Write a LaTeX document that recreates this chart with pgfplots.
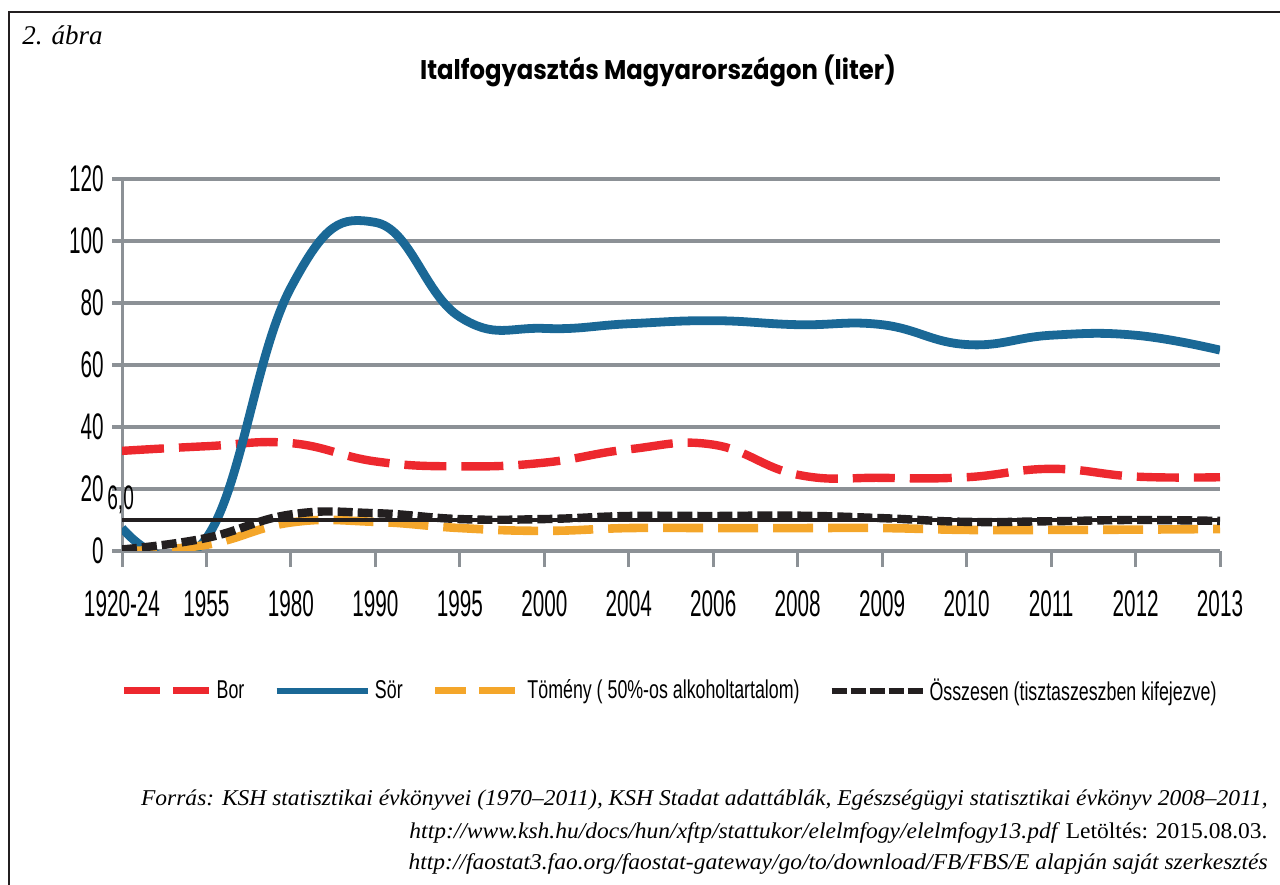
\documentclass[border=0pt]{standalone}
\usepackage{fontspec}
\usepackage{pgfplots}
\pgfplotsset{compat=1.18}
\setmainfont{Liberation Serif}
\newfontfamily\tickfont[FakeStretch=0.56]{Liberation Sans}
\newfontfamily\legfont[FakeStretch=0.69]{Liberation Sans}
\newfontfamily\titlefont[FakeStretch=0.9]{Poppins}
\newfontfamily\srcfont[FakeStretch=1.04]{Liberation Serif}
\definecolor{gridgray}{RGB}{140,145,150}
\definecolor{borred}{RGB}{237,40,46}
\definecolor{sorblue}{RGB}{26,104,150}
\definecolor{tomorange}{RGB}{244,166,42}
\definecolor{ossblack}{RGB}{35,31,32}
\begin{document}
\begin{tikzpicture}
\useasboundingbox (0,0) rectangle (640pt,442pt);
\draw[ossblack, line width=1.35pt] (4.5pt,-20pt) -- (4.5pt,436pt) -- (700pt,436pt);
\node[anchor=base west, font=\fontsize{13.5}{16}\selectfont\itshape, inner sep=0pt] at (11pt,419.5pt) {2. ábra};
\node[anchor=base, font=\titlefont\bfseries\fontsize{13.5}{16}\selectfont, inner sep=0pt] at (329pt,402pt) {Italfogyasztás Magyarországon (liter)};
\begin{axis}[
  at={(61pt,166.5pt)}, anchor=south west,
  scale only axis, width=549pt, height=186pt,
  xmin=0, xmax=13, ymin=0, ymax=120,
  xtick={0,...,13},
  xticklabels={1920-24,1955,1980,1990,1995,2000,2004,2006,2008,2009,2010,2011,2012,2013},
  ytick={0,20,...,120},
  axis x line*=bottom, axis y line*=left,
  ymajorgrids,
  grid style={gridgray, line width=2pt},
  axis line style={gridgray, line width=1.5pt},
  tick style={gridgray, line width=1.5pt},
  xtick align=outside, ytick align=outside,
  major tick length=8pt,
  ytick style={/pgfplots/major tick length=5pt, line width=2pt},
  /pgf/number format/assume math mode=true,
  xticklabel style={font=\tickfont\fontsize{18.5}{20}\selectfont, inner sep=0pt, anchor=north, yshift=-11.5pt},
  yticklabel style={font=\tickfont\fontsize{18.5}{20}\selectfont, inner sep=0pt, anchor=east, xshift=-1pt},
  legend style={draw=none, fill=none, inner sep=0pt, outer sep=0pt,
    font=\legfont\fontsize{12.9}{15}\selectfont,
    at={(-0.001,-0.376)}, anchor=west, legend columns=4,
    /tikz/every even column/.append style={column sep=12.5pt},
    /tikz/column 6/.append style={column sep=15.5pt}},
  legend cell align=left,
  smooth, tension=0.75,
]
\addplot[borred, line width=4.2pt, dash pattern=on 21pt off 7.5pt, smooth, tension=0.75,
  legend image code/.code={\draw[borred, line width=3.4pt, dash pattern=on 18pt off 6.5pt] (0pt,0pt) -- (42.5pt,0pt);}]
  coordinates {(0,32.3) (1,33.8) (2,34.8) (3,28.9) (4,27.3) (5,28.5) (6,32.8) (7,34.3) (8,24.6) (9,23.6) (10,23.8) (11,26.5) (12,24.0) (13,23.8)};
\addlegendentry{Bor}
\addplot[sorblue, line width=4.4pt, smooth, tension=0.75,
  legend image code/.code={\draw[sorblue, line width=3.3pt] (0pt,0pt) -- (45.5pt,0pt);}]
  coordinates {(0,7.4) (1,4.2) (2,85) (3,106) (4,75.5) (5,71.8) (6,73.3) (7,74.3) (8,73.0) (9,73.0) (10,66.6) (11,69.6) (12,69.6) (13,64.8)};
\addlegendentry{Sör}
\addplot[tomorange, line width=4.3pt, dash pattern=on 20pt off 7.5pt, dash phase=2.5pt, smooth, tension=0.75,
  legend image code/.code={\draw[tomorange, line width=3.4pt, dash pattern=on 18pt off 6.5pt] (0pt,0pt) -- (42.5pt,0pt);}]
  coordinates {(0,0) (1,2) (2,9.2) (3,9.4) (4,7.4) (5,6.5) (6,7.4) (7,7.4) (8,7.4) (9,7.4) (10,6.8) (11,6.8) (12,6.9) (13,7.1)};
\addlegendentry{Tömény ( 50\%-os alkoholtartalom)}
\addplot[ossblack, line width=1.6pt, forget plot, sharp plot] coordinates {(0,10) (13,10)};
\addplot[ossblack, line width=4.2pt, dash pattern=on 7.5pt off 2.5pt, smooth, tension=0.75,
  legend image code/.code={\draw[ossblack, line width=3pt, dash pattern=on 7.5pt off 2pt] (0pt,0pt) -- (45.5pt,0pt);}]
  coordinates {(0,0.5) (1,4.2) (2,11.8) (3,12.2) (4,10.3) (5,10.3) (6,11.3) (7,11.3) (8,11.4) (9,10.6) (10,9.4) (11,9.6) (12,10.0) (13,9.7)};
\addlegendentry{Összesen (tisztaszeszben kifejezve)}
\end{axis}
\node[anchor=base west, font=\tickfont\fontsize{17}{19}\selectfont, inner sep=0pt] at (53.5pt,187pt) {6,0};
\begin{scope}[every node/.style={anchor=base east, inner sep=0pt, font=\srcfont\fontsize{11.3}{13}\selectfont}]
\node at (634pt,39pt) {\itshape Forrás: KSH statisztikai évkönyvei (1970–2011), KSH Stadat adattáblák, Egészségügyi statisztikai évkönyv 2008–2011,};
\node at (634pt,23pt) {\textit{http://www.ksh.hu/docs/hun/xftp/stattukor/elelmfogy/elelmfogy13.pdf} Letöltés: 2015.08.03.};
\node at (634pt,7.5pt) {\itshape http://faostat3.fao.org/faostat-gateway/go/to/download/FB/FBS/E alapján saját szerkesztés};
\end{scope}
\end{tikzpicture}
\end{document}
